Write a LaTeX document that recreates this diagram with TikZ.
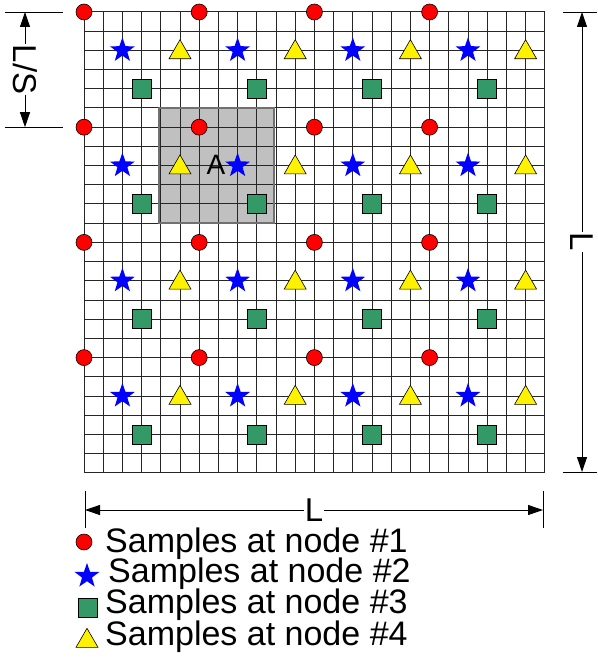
\documentclass[tikz,border=0pt]{standalone}
\usepackage{fontspec}
\setmainfont{Liberation Sans}
\usetikzlibrary{shapes.geometric,arrows.meta}
\definecolor{sqgreen}{HTML}{339966}
\definecolor{boxgray}{HTML}{C0C0C0}
\definecolor{boxedge}{HTML}{707070}
\tikzset{
  gridline/.style={line width=1pt, black!85},
  nodeone/.style={circle, draw=black, line width=0.6pt, fill=red, minimum size=16pt, inner sep=0pt},
  nodetwo/.style={star, star points=5, star point ratio=2.5, fill=blue, minimum size=26pt, inner sep=0pt},
  nodethree/.style={rectangle, draw=black, line width=0.6pt, fill=sqgreen, minimum size=19pt, inner sep=0pt},
  nodefour/.style={regular polygon, regular polygon sides=3, draw=black, line width=0.6pt, fill=yellow, minimum size=25.4pt, inner sep=0pt},
  dimline/.style={line width=0.9pt, black},
  dimarrow/.style={line width=0.9pt, black, {Triangle[length=15pt,width=10pt]}-{Triangle[length=15pt,width=10pt]}},
  dimlabel/.style={fill=white, inner sep=1pt, font=\fontsize{33}{33}\selectfont},
  legendtext/.style={anchor=base west, inner sep=0pt, font=\fontsize{34}{34}\selectfont}
}
\begin{document}
\begin{tikzpicture}[x=1pt, y=-1pt]
\useasboundingbox (0,0) rectangle (597,660);
\def\cell{19.2}
% shaded cell A (fill under the grid)
\fill[boxgray] (159,108) rectangle (274,223);
% 24 x 24 grid
\foreach \i in {0,...,24} {
  \draw[gridline] (84+\i*\cell, 12) -- (84+\i*\cell, 12+24*\cell);
  \draw[gridline] (84, 12+\i*\cell) -- (84+24*\cell, 12+\i*\cell);
}
\draw[boxedge, line width=2pt] (159,108) rectangle (274,223);
\node[font=\fontsize{28}{28}\selectfont, inner sep=0pt] (labA) at (216,165) {A};
% sampling points
\foreach \a in {0,1,2,3} {
  \foreach \b in {0,1,2,3} {
    \node[nodeone]   (one-\a-\b)   at (84+\a*6*\cell+0*\cell, 12+\b*6*\cell+0*\cell) {};
    \node[nodetwo]   (two-\a-\b)   at (84+\a*6*\cell+2*\cell, 12+\b*6*\cell+2*\cell) {};
    \node[nodethree] (three-\a-\b) at (84+\a*6*\cell+3*\cell, 12+\b*6*\cell+4*\cell) {};
    \node[nodefour]  (four-\a-\b)  at (84+\a*6*\cell+5*\cell, 12+\b*6*\cell+2*\cell+2) {};
  }
}
% dimension L/S
\coordinate (lsT) at (25,12);
\coordinate (lsB) at (25,127.2);
\draw[dimline] (5,12) -- (63,12);
\draw[dimline] (5,127.2) -- (63,127.2);
\draw[dimarrow] (lsT) -- node[dimlabel, rotate=-90] (lsLab) {L/S} (lsB);
% dimension L (right)
\coordinate (rT) at (582,12);
\coordinate (rB) at (582,472);
\draw[dimline] (563,12) -- (597,12);
\draw[dimline] (563,472) -- (597,472);
\draw[dimarrow] (rT) -- node[dimlabel, rotate=-90] (rLab) {L} (rB);
% dimension L (bottom)
\coordinate (bL) at (85,510);
\coordinate (bR) at (543,510);
\draw[dimline] (85,491) -- (85,528);
\draw[dimline] (543,491) -- (543,528);
\draw[dimarrow] (bL) -- node[dimlabel] (bLab) {L} (bR);
% legend
\node[nodeone]   (legone)   at (84,542) {};
\node[nodetwo]   (legtwo)   at (87,576) {};
\node[nodethree] (legthree) at (88,608) {};
\node[nodefour]  (legfour)  at (87,641) {};
\node[legendtext] (txtone)   at (105,552) {Samples at node \#1};
\node[legendtext] (txttwo)   at (108,582) {Samples at node \#2};
\node[legendtext] (txtthree) at (105,613) {Samples at node \#3};
\node[legendtext] (txtfour)  at (105,645) {Samples at node \#4};
\end{tikzpicture}
\end{document}
